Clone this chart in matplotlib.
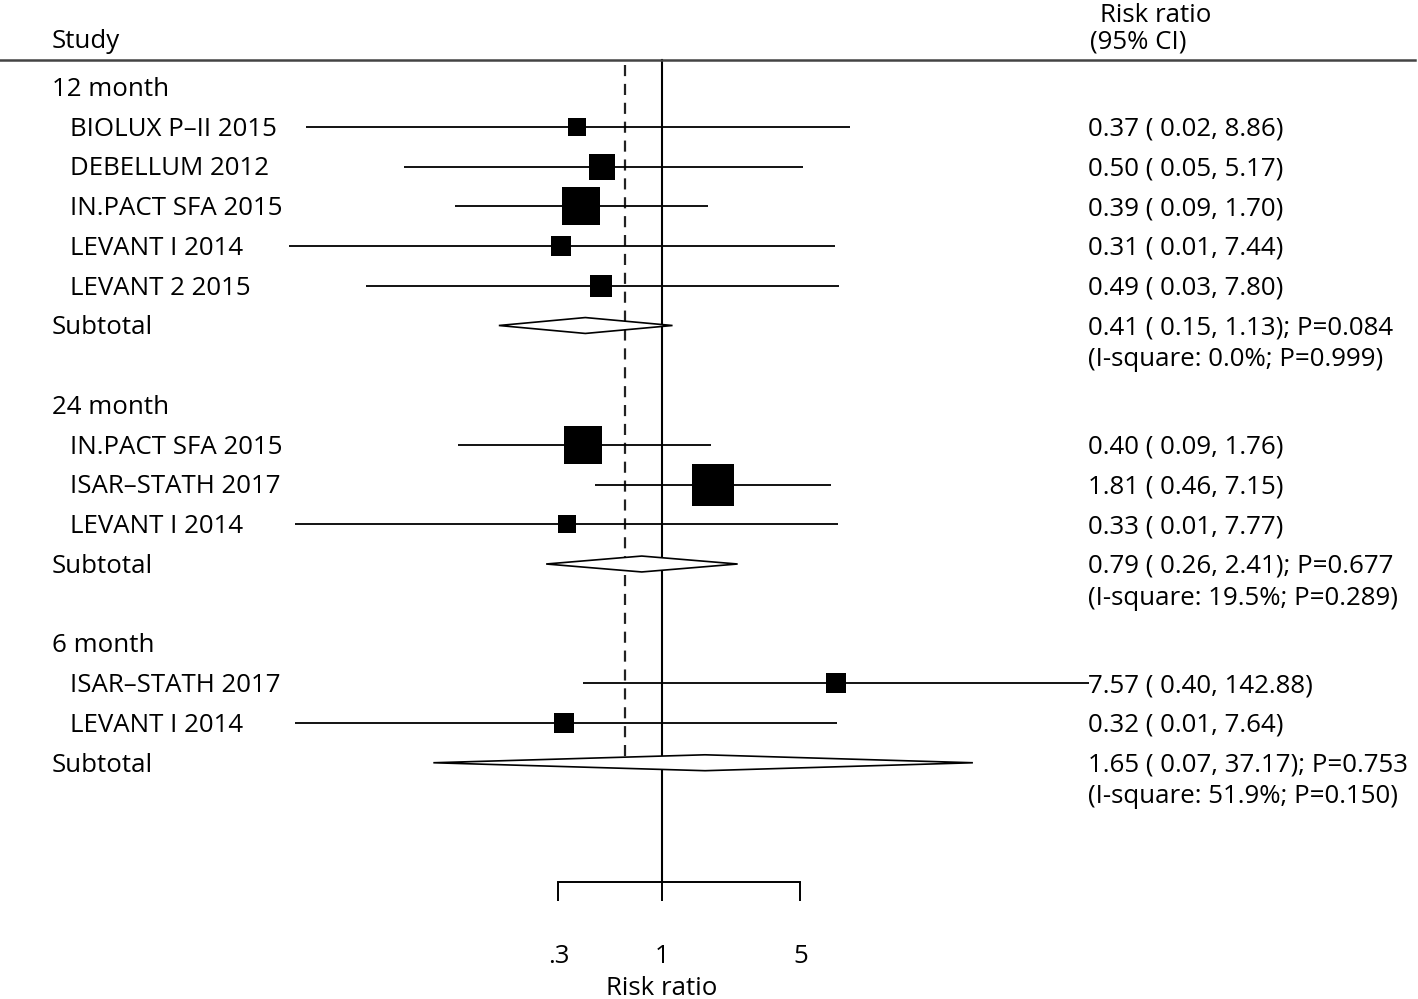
import matplotlib
matplotlib.use('Agg')
import matplotlib.pyplot as plt
import numpy as np
import matplotlib.transforms as mtransforms
from matplotlib.patches import Polygon
from matplotlib.ticker import NullLocator

plt.rcParams['font.family'] = ['Open Sans', 'DejaVu Sans']

# ---------------- data ----------------
groups = ['12 month', '24 month', '6 month']
study_group = [0, 0, 0, 0, 0, 1, 1, 1, 2, 2]
study_names = ['BIOLUX P\u2013II 2015', 'DEBELLUM 2012', 'IN.PACT SFA 2015', 'LEVANT I 2014',
               'LEVANT 2 2015', 'IN.PACT SFA 2015', 'ISAR\u2013STATH 2017', 'LEVANT I 2014',
               'ISAR\u2013STATH 2017', 'LEVANT I 2014']
rr = [0.37, 0.50, 0.39, 0.31, 0.49, 0.40, 1.81, 0.33, 7.57, 0.32]
ci_lo = [0.016, 0.05, 0.09, 0.013, 0.032, 0.093, 0.46, 0.014, 0.40, 0.014]
ci_hi = [8.86, 5.17, 1.70, 7.44, 7.80, 1.76, 7.15, 7.77, 142.88, 7.64]
weights = [4.4, 8.4, 19.5, 4.9, 6.0, 19.5, 22.7, 4.4, 5.4, 4.9]

sub_rr = [0.41, 0.79, 1.65]
sub_lo = [0.15, 0.26, 0.07]
sub_hi = [1.13, 2.41, 37.17]
sub_p = ['0.084', '0.677', '0.753']
i2 = [0.0, 19.5, 51.9]
i2_p = ['0.999', '0.289', '0.150']
overall_rr = 0.65

xticks = [0.3, 1, 5]
xtick_labels = ['.3', '1', '5']

# ---------------- layout ----------------
W, H = 1418, 999
fig = plt.figure(figsize=(W / 100, H / 100), dpi=100)
ax = fig.add_axes([0, 0, 1, 1])
ax.set_xscale('log')
# pixel x = 662 + 198*log10(v)
ax.set_xlim(10 ** (-662 / 198), 10 ** ((W - 662) / 198))
# pixel y = 87 + 39.75*row
ax.set_ylim((H - 87) / 39.75, -87 / 39.75)
tx = mtransforms.blended_transform_factory(ax.transAxes, ax.transData)

FS = 18.6
DY = 0.06  # small downward text nudge (rows)
def px(x):
    return x / W

def label(x, y, s, **kw):
    ax.text(px(x), y + DY, s, transform=tx, va='center', ha='left', fontsize=FS, **kw)

row = 0
sub_rows = []
for g in range(len(groups)):
    label(52, row, groups[g])
    row += 1
    for i in [k for k in range(len(rr)) if study_group[k] == g]:
        ax.plot([ci_lo[i], ci_hi[i]], [row, row], color='black', lw=1.3, solid_capstyle='butt', zorder=2)
        side_pt = 8.8 * np.sqrt(weights[i]) * 0.72
        ax.plot([rr[i]], [row], marker='s', ms=side_pt, color='black', mec='black', mew=0, zorder=3)
        label(70, row, study_names[i])
        label(1088, row, f"{rr[i]:.2f} ( {ci_lo[i]:.2f}, {ci_hi[i]:.2f})")
        row += 1
    # subtotal diamond
    h = 0.2
    poly = Polygon([[sub_lo[g], row], [sub_rr[g], row - h], [sub_hi[g], row], [sub_rr[g], row + h]],
                   closed=True, facecolor='white', edgecolor='black', lw=1.2, zorder=4)
    ax.add_patch(poly)
    label(52, row, 'Subtotal')
    label(1088, row, f"{sub_rr[g]:.2f} ( {sub_lo[g]:.2f}, {sub_hi[g]:.2f}); P={sub_p[g]}")
    label(1088, row + 0.8, f"(I-square: {i2[g]:.1f}%; P={i2_p[g]})")
    sub_rows.append(row)
    row += 2

# header
label(52, -1.2, 'Study')
label(1100, -1.86, 'Risk ratio')
label(1090, -1.2, '(95% CI)')
ax.plot([px(0), px(1415)], [-0.68, -0.68], transform=tx, color='#444444', lw=1.8)

# null line and overall line
ax.plot([1, 1], [-0.68, 20], color='black', lw=1.5, zorder=1)
ax.plot([overall_rr, overall_rr], [-0.55, sub_rows[-1] + 0.12], color='#222222', lw=1.6,
        dashes=(5, 3.5), zorder=1)

# x axis
for s in ['top', 'left', 'right']:
    ax.spines[s].set_visible(False)
ax.spines['bottom'].set_position(('data', 20))
ax.spines['bottom'].set_bounds(0.3, 5)
ax.spines['bottom'].set_linewidth(1.4)
ax.set_xticks(xticks)
ax.set_xticklabels(xtick_labels, fontsize=FS)
ax.xaxis.set_minor_locator(NullLocator())
ax.tick_params(axis='x', direction='out', length=13.7, width=1.4, pad=31)
ax.set_yticks([])
ax.text(1, 22.68, 'Risk ratio', ha='center', va='center', fontsize=FS)

fig.savefig('out.png', dpi=100)
